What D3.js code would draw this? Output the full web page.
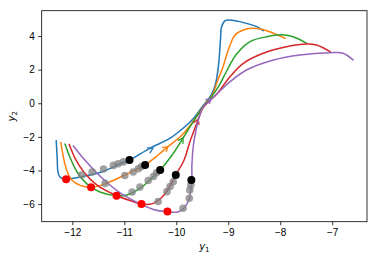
<!DOCTYPE html>
<html>
<head>
<meta charset="utf-8">
<script src="https://cdn.jsdelivr.net/npm/d3@7"></script>
<style>
  body { margin: 0; background: #fff; }
  svg { font-family: "DejaVu Sans", sans-serif; }
  .axis text { font-size: 10px; fill: #000; }
  .axis path, .axis line { stroke: #000; stroke-width: 0.8; }
</style>
</head>
<body>
<div id="chart"></div>
<script>
// trajectories (y1, y2)
const blueX = [-12.31,-12.29,-12.28,-12.24,-12.16,-12.12,-11.85,-11.47,-11.08,-10.90,-10.51,-10.12,-9.87,-9.67,-9.49,-9.33,-9.25,-9.19,-9.15,-9.13,-9.06,-8.97,-8.78,-8.45,-8.33];
const blueY = [-2.24,-3.38,-4.03,-4.39,-4.51,-4.52,-4.39,-4.12,-3.61,-3.38,-2.68,-2.08,-1.49,-0.90,-0.16,0.49,1.09,2.18,3.77,4.54,4.92,4.96,4.86,4.56,4.32];

const orangeX = [-12.22,-12.18,-12.11,-12.01,-11.85,-11.64,-11.37,-10.99,-10.73,-10.60,-10.35,-10.16,-9.93,-9.74,-9.49,-9.31,-9.20,-9.10,-9.00,-8.87,-8.71,-8.55,-8.36,-8.13,-7.91];
const orangeY = [-2.35,-3.08,-3.97,-4.57,-4.89,-5.00,-4.80,-4.27,-3.87,-3.67,-3.08,-2.58,-2.01,-1.35,-0.22,0.49,1.39,2.18,3.17,4.07,4.36,4.46,4.40,4.17,3.87];

const greenX = [-12.14,-12.04,-11.91,-11.72,-11.47,-11.15,-10.95,-10.70,-10.51,-10.31,-10.08,-9.87,-9.70,-9.49,-9.31,-9.18,-9.03,-8.84,-8.58,-8.26,-7.94,-7.75,-7.49];
const greenY = [-2.44,-3.26,-4.09,-4.80,-5.28,-5.50,-5.46,-5.07,-4.57,-3.97,-3.08,-2.07,-1.23,-0.25,0.43,1.03,1.92,2.93,3.67,3.96,4.07,3.96,3.57];

const redX = [-12.06,-11.95,-11.78,-11.53,-11.18,-10.89,-10.67,-10.47,-10.31,-10.18,-10.01,-9.85,-9.74,-9.64,-9.56,-9.49,-9.35,-9.22,-8.97,-8.71,-8.33,-7.88,-7.49,-7.30,-7.04];
const redY = [-2.46,-3.26,-4.09,-4.86,-5.46,-5.79,-5.99,-5.99,-5.70,-5.22,-4.27,-3.38,-2.30,-1.47,-0.82,-0.28,0.17,0.55,1.57,2.38,2.98,3.37,3.53,3.47,3.07];

const purpleX = [-11.98,-11.76,-11.47,-11.08,-10.70,-10.41,-10.17,-9.97,-9.85,-9.76,-9.72,-9.70,-9.70,-9.67,-9.62,-9.56,-9.49,-9.39,-9.26,-8.97,-8.65,-8.13,-7.62,-7.04,-6.79,-6.60];
const purpleY = [-2.54,-3.38,-4.33,-5.34,-5.99,-6.35,-6.45,-6.47,-6.23,-5.76,-5.16,-4.57,-3.67,-2.48,-1.59,-0.82,-0.28,0.08,0.43,1.27,1.98,2.58,2.88,3.01,2.98,2.58];

// direction arrows on each trajectory
const arrowX = [-10.45, -10.16, -9.87, -9.58, -9.33];
const arrowY = [-2.68, -2.58, -2.07, -0.95, 0.28];

// marker points
const redDotX = [-12.12, -11.64, -11.15, -10.67, -10.17];
const redDotY = [-4.52, -5.00, -5.50, -5.99, -6.45];
const blackDotX = [-10.90, -10.60, -10.31, -10.01, -9.71];
const blackDotY = [-3.38, -3.67, -3.97, -4.27, -4.57];
const grayX = [-11.82,-11.62,-11.40,-11.21,-11.12,-11.02,
               -11.37,-10.99,-10.83,-10.73,-10.67,
               -10.85,-10.70,-10.54,-10.44,-10.38,
               -10.35,-10.18,-10.12,-10.06,
               -9.87,-9.75,-9.74,-9.72];
const grayY = [-4.27,-4.09,-3.91,-3.70,-3.60,-3.49,
               -4.77,-4.30,-4.09,-3.90,-3.76,
               -5.28,-4.98,-4.60,-4.36,-4.14,
               -5.85,-5.26,-4.96,-4.67,
               -6.25,-5.65,-5.16,-4.86];

const xTicks = [-12, -11, -10, -9, -8, -7];
const yTicks = [-6, -4, -2, 0, 2, 4];

const series = [
    { x: blueX, y: blueY, color: "#1f77b4" },
    { x: orangeX, y: orangeY, color: "#ff7f0e" },
    { x: greenX, y: greenY, color: "#2ca02c" },
    { x: redX, y: redY, color: "#d62728" },
    { x: purpleX, y: purpleY, color: "#9467bd" }
];

const W = 378, H = 259;
let margin = { top: 10.7, right: 11, bottom: 37.3, left: 41.7 },
    width = W - margin.left - margin.right,
    height = H - margin.top - margin.bottom;

let svg = d3.select("#chart")
    .append("svg")
    .attr("width", W)
    .attr("height", H)
    .append("g")
    .attr("transform", "translate(" + margin.left + "," + margin.top + ")");

let xScale = d3.scaleLinear().domain([-12.59, -6.33]).range([0, width]);
let yScale = d3.scaleLinear().domain([-7.05, 5.51]).range([height, 0]);

let lineGenerator = d3.line()
    .x(function (d) { return xScale(d[0]); })
    .y(function (d) { return yScale(d[1]); })
    .curve(d3.curveCatmullRom.alpha(0.5));

// curves
series.forEach(function (s, k) {
    let pts = s.x.map(function (v, i) { return [v, s.y[i]]; });
    svg.append("path")
        .datum(pts)
        .attr("d", lineGenerator)
        .attr("fill", "none")
        .attr("stroke", s.color)
        .attr("stroke-width", 1.5)
        .attr("stroke-linejoin", "round")
        .attr("stroke-linecap", "square");

    // arrow head: direction from nearest segment
    let ax = xScale(arrowX[k]), ay = yScale(arrowY[k]);
    let best = 0, bestD = Infinity;
    for (let i = 0; i < pts.length - 1; i++) {
        let mx = (xScale(pts[i][0]) + xScale(pts[i + 1][0])) / 2,
            my = (yScale(pts[i][1]) + yScale(pts[i + 1][1])) / 2;
        let d = (mx - ax) * (mx - ax) + (my - ay) * (my - ay);
        if (d < bestD) { bestD = d; best = i; }
    }
    let dx = xScale(pts[best + 1][0]) - xScale(pts[best][0]),
        dy = yScale(pts[best + 1][1]) - yScale(pts[best][1]);
    let ang = Math.atan2(dy, dx) * 180 / Math.PI;
    svg.append("path")
        .attr("d", "M-5,-3L0,0L-5,3")
        .attr("transform", "translate(" + ax + "," + ay + ") rotate(" + ang + ")")
        .attr("fill", "none")
        .attr("stroke", s.color)
        .attr("stroke-width", 1.3);
});

// gray points
svg.selectAll(".gray")
    .data(grayX.map(function (v, i) { return [v, grayY[i]]; }))
    .enter()
    .append("circle")
    .attr("cx", function (d) { return xScale(d[0]); })
    .attr("cy", function (d) { return yScale(d[1]); })
    .attr("r", 3.8)
    .attr("fill", "#808080")
    .attr("fill-opacity", 0.75);

svg.selectAll(".red")
    .data(redDotX.map(function (v, i) { return [v, redDotY[i]]; }))
    .enter()
    .append("circle")
    .attr("cx", function (d) { return xScale(d[0]); })
    .attr("cy", function (d) { return yScale(d[1]); })
    .attr("r", 4)
    .attr("fill", "#ff0000");

svg.selectAll(".black")
    .data(blackDotX.map(function (v, i) { return [v, blackDotY[i]]; }))
    .enter()
    .append("circle")
    .attr("cx", function (d) { return xScale(d[0]); })
    .attr("cy", function (d) { return yScale(d[1]); })
    .attr("r", 4)
    .attr("fill", "#000");

// axes
svg.append("g")
    .attr("class", "axis")
    .attr("transform", "translate(0," + height + ")")
    .call(d3.axisBottom(xScale).tickValues(xTicks).tickSize(3.5).tickPadding(3.5)
        .tickFormat(function (d) { return d3.format("d")(d).replace("-", "\u2212"); }))
    .call(function (g) { g.select(".domain").remove(); });

svg.append("g")
    .attr("class", "axis")
    .call(d3.axisLeft(yScale).tickValues(yTicks).tickSize(3.5).tickPadding(3.5)
        .tickFormat(function (d) { return d3.format("d")(d).replace("-", "\u2212"); }))
    .call(function (g) { g.select(".domain").remove(); });

svg.append("rect")
    .attr("width", width)
    .attr("height", height)
    .attr("fill", "none")
    .attr("stroke", "#000")
    .attr("stroke-width", 0.8);

// labels
let xTitle = svg.append("text")
    .attr("x", width / 2)
    .attr("y", height + 28)
    .attr("text-anchor", "middle")
    .attr("font-size", "10px");
xTitle.append("tspan").attr("font-style", "italic").text("y");
xTitle.append("tspan").attr("font-size", "7px").attr("dy", 2).text("1");

let yTitle = svg.append("text")
    .attr("transform", "translate(" + (-margin.left + 15) + "," + (height / 2) + ") rotate(-90)")
    .attr("text-anchor", "middle")
    .attr("font-size", "10px");
yTitle.append("tspan").attr("font-style", "italic").text("y");
yTitle.append("tspan").attr("font-size", "7px").attr("dy", 2).text("2");
</script>
</body>
</html>
